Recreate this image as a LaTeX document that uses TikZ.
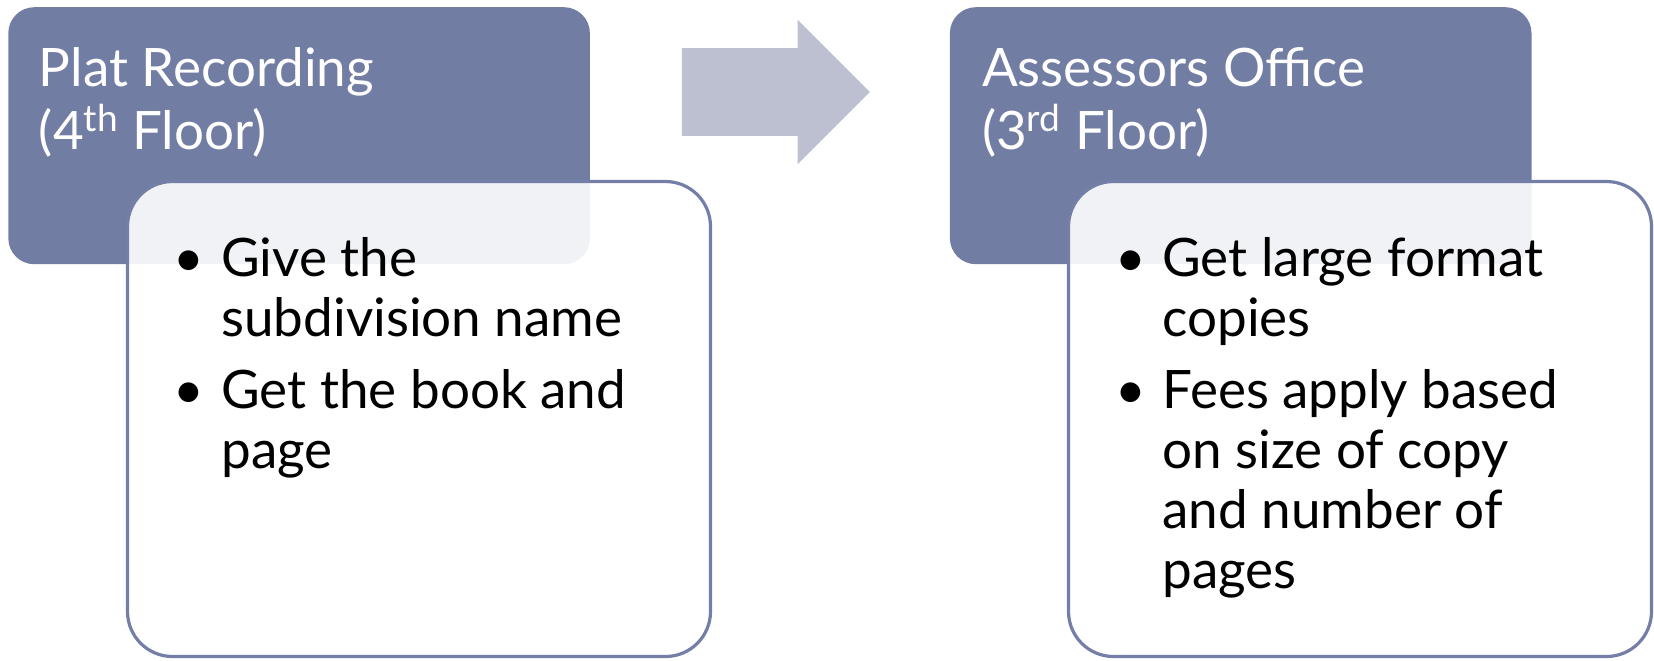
\documentclass[tikz,border=0pt]{standalone}
\usepackage{fontspec}
\setmainfont{Lato}
\usetikzlibrary{positioning,shapes.arrows}
\definecolor{hdrblue}{RGB}{114,125,163}
\definecolor{flowgrey}{RGB}{188,192,208}
\definecolor{rimblue}{RGB}{116,127,167}
\newcommand{\rowsof}[1]{\begin{tabular}[t]{@{}l@{}}#1\end{tabular}}

\begin{document}
\begin{tikzpicture}[every node/.style={outer sep=0pt, inner sep=0pt},
	header/.style={rectangle, rounded corners=13pt, fill=hdrblue, minimum width=290.8pt, minimum height=128.5pt},
	panel/.style={rectangle, rounded corners=22.5pt, draw=rimblue, line width=1.6pt, fill=white, fill opacity=0.9, minimum width=291.5pt, minimum height=237.5pt},
	title/.style={anchor=base west, text=white, font=\fontsize{26.5}{30.5}\selectfont},
	point/.style={anchor=base west, font=\fontsize{26.5}{30}\selectfont}]
		\useasboundingbox (0,0) rectangle (827pt,-330pt);
		
		\node[header, anchor=north west] (hdrA) at (4.15pt,-3.6pt) {};
		
		\node[header, right =180pt of hdrA] (hdrB) {};
		
		\node[single arrow, fill=flowgrey, minimum height=94pt, single arrow head extend=14.25pt, inner ysep=21.75pt] (flow) at (377pt,-46pt) {};
		
		\node[panel, anchor=north west] (panA) at (63.75pt,-90.75pt) {};
		
		\node[panel, anchor=north west] (panB) at (534.25pt,-90.75pt) {};
		
		\node[title] (titleA) at (19.5pt,-43pt) {\rowsof{Plat Recording\\(4\textsuperscript{th} Floor)}};
		
		\node[title] (titleB) at (491pt,-43pt) {\rowsof{Assessors Office\\(3\textsuperscript{rd} Floor)}};
		
		\node[point] (dotA1) at (86.5pt,-138pt) {\textbullet};
		\node[point] (itemA1) at (110.7pt,-138pt) {\rowsof{Give the\\subdivision name}};
		\node[point] (dotA2) at (86.5pt,-204pt) {\textbullet};
		\node[point] (itemA2) at (110.7pt,-204pt) {\rowsof{Get the book and\\page}};
		
		\node[point] (dotB1) at (557.5pt,-138pt) {\textbullet};
		\node[point] (itemB1) at (581.2pt,-138pt) {\rowsof{Get large format\\copies}};
		\node[point] (dotB2) at (557.5pt,-204pt) {\textbullet};
		\node[point] (itemB2) at (581.2pt,-204pt) {\rowsof{Fees apply based\\on size of copy\\and number of\\pages}};
		\end{tikzpicture}
\end{document}
